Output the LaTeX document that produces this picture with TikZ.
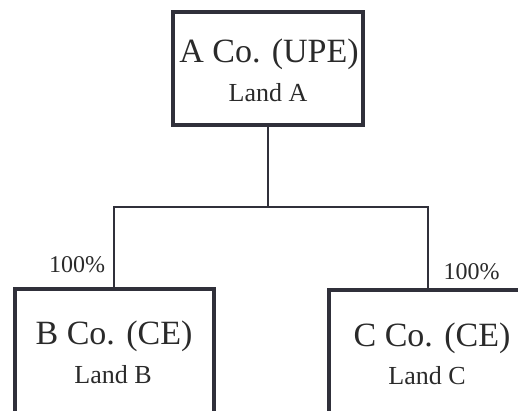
\documentclass[tikz,border=0pt]{standalone}
\usepackage{fontspec}
\setmainfont{Liberation Serif}
\begin{document}
\begin{tikzpicture}[x=1pt,y=1pt,
  entity/.style={draw=boxline, line width=4pt, rectangle, inner sep=0pt},
  link/.style={draw=boxline, line width=1.4pt},
  title/.style={anchor=base, inner sep=0pt, text=txt, font=\fontsize{34}{40}\selectfont},
  land/.style={anchor=base, inner sep=0pt, text=txt, font=\fontsize{26}{30}\selectfont},
  share/.style={anchor=base, inner sep=0pt, text=txt, font=\fontsize{24}{28}\selectfont}]
\definecolor{boxline}{HTML}{30303A}
\definecolor{txt}{HTML}{2A2A2A}
\useasboundingbox (0,0) rectangle (518,411);
\clip (0,0) rectangle (518,411);
% entities
\node[entity, minimum width=190pt, minimum height=113pt] (a) at (268,342.5) {};
\node[entity, minimum width=199pt, minimum height=182pt] (b) at (114,31) {};
\node[entity, minimum width=198pt, minimum height=182pt] (c) at (428,30) {};
% labels
\node[title] (at) at (269,348) {A Co. (UPE)};
\node[land]  (al) at (268,309) {Land A};
\node[title] (bt) at (114,66) {B Co. (CE)};
\node[land]  (bl) at (113,27) {Land B};
\node[title] (ct) at (432,64) {C Co. (CE)};
\node[land]  (cl) at (427,26) {Land C};
\node[share] (bs) at (77,138) {100\%};
\node[share] (cs) at (471.5,131) {100\%};
% ownership links
\coordinate (j) at (268,204);
\draw[link] (a.south) -- (j);
\draw[link] (j) -| (b.north);
\draw[link] (j) -| (c.north);
\end{tikzpicture}
\end{document}
